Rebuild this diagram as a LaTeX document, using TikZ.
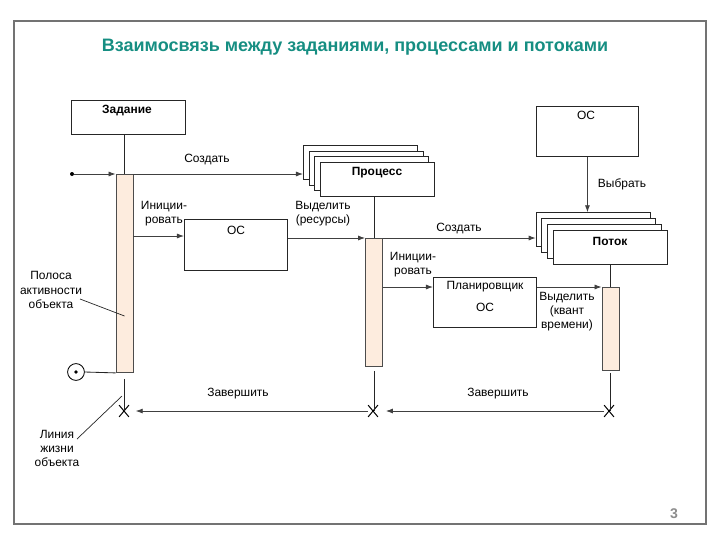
\documentclass[tikz,border=0pt]{standalone}
\usepackage{fontspec}
\setmainfont{Liberation Sans}
\usetikzlibrary{arrows.meta,shapes.misc}

\definecolor{titleteal}{RGB}{22,142,130}
\definecolor{barfill}{RGB}{253,236,222}
\definecolor{framegray}{RGB}{115,115,115}

\begin{document}
\begin{tikzpicture}[x=0.025cm,y=-0.025cm,
  box/.style={draw=black!85,line width=0.6pt,inner sep=0pt,anchor=north west},
  stackbox/.style={box,fill=white,minimum width=2.85cm,minimum height=0.85cm},
  bar/.style={draw=black!70,fill=barfill,line width=0.6pt,minimum width=0.425cm,inner sep=0pt,anchor=north},
  msg/.style={draw=black!75,line width=0.6pt,-{Latex[length=5pt,width=3.6pt]}},
  life/.style={draw=black!85,line width=0.6pt},
  lbl/.style={font=\fontsize{8.5}{10}\selectfont,align=center,inner sep=1pt},
  hdr/.style={lbl,font=\fontsize{8.5}{10}\selectfont\bfseries},
  xmark/.style={cross out,draw=black,line width=0.7pt,minimum width=0.22cm,minimum height=0.27cm,inner sep=0pt}]

\useasboundingbox (0,0) rectangle (720,540);
\draw[framegray,line width=1.4pt] (14,21) rectangle (706,524);

\node[font=\fontsize{12.8}{15}\selectfont\bfseries,text=titleteal] (title) at (355,47)
  {Взаимосвязь между заданиями, процессами и потоками};

% objects
\node[box,minimum width=2.85cm,minimum height=0.85cm] (zad) at (71,100) {};
\node[hdr] (zadtxt) at (127,111) {Задание};

\node[box,minimum width=2.55cm,minimum height=1.25cm] (os3) at (536,106) {};
\node[lbl] (os3txt) at (586,115) {ОС};

\node[stackbox] (proc3) at (303,145) {};
\node[stackbox] (proc2) at (308.7,150.5) {};
\node[stackbox] (proc1) at (314.4,156.2) {};
\node[stackbox] (proc) at (320,162) {};
\node[hdr] (proctxt) at (377,173) {Процесс};

\node[stackbox] (thr3) at (535.7,212.3) {};
\node[stackbox] (thr2) at (541.3,218.3) {};
\node[stackbox] (thr1) at (547,224.3) {};
\node[stackbox] (thr) at (552.7,230.3) {};
\node[hdr] (thrtxt) at (610,241) {Поток};

\node[box,minimum width=2.575cm,minimum height=1.275cm] (os2) at (184,219) {};
\node[lbl] (os2txt) at (236,230) {ОС};

\node[box,minimum width=2.575cm,minimum height=1.25cm] (plan) at (433,277) {};
\node[lbl] (plantxt) at (485,287) {Планировщик};
\node[lbl] (planos) at (485,307) {ОС};

% activation bars
\node[bar,minimum height=4.95cm] (bar1) at (124.5,174) {};
\node[bar,minimum height=3.2cm] (bar2) at (374,238) {};
\node[bar,minimum height=2.075cm] (bar3) at (610.5,287) {};

% start / end / destroy marks
\node[circle,fill=black,minimum size=0.1cm,inner sep=0pt] (start) at (72,174) {};
\node[circle,draw=black,line width=0.6pt,minimum size=0.42cm,inner sep=0pt] (fin) at (76,372) {};
\node[circle,fill=black,minimum size=0.09cm,inner sep=0pt] (findot) at (76,372) {};
\node[xmark] (x1) at (124,411) {};
\node[xmark] (x2) at (373,411) {};
\node[xmark] (x3) at (609,411) {};

% lifelines
\draw[life] (zad.south -| bar1.north) -- (bar1.north);
\draw[life] (proc.south -| bar2.north) -- (bar2.north);
\draw[life] (thr.south -| bar3.north) -- (bar3.north);
\draw[life,shorten <=0.15cm] (bar1.south) -- (bar1.south |- x1.center);
\draw[life,shorten <=0.1cm] (bar2.south) -- (bar2.south |- x2.center);
\draw[life,shorten <=0.05cm] (bar3.south) -- (bar3.south |- x3.center);
\draw[life] (fin.east) -- (bar1.south west);

% messages
\draw[msg] (start) -- (bar1.north west);
\draw[msg] (bar1.north east) -- (bar1.north -| proc3.west);
\draw[msg] (bar1.east |- 0,236) -- (os2.west |- 0,236);
\draw[msg] (os2.east |- bar2.north) -- (bar2.north west);
\draw[msg] (bar2.north east) -- (bar2.north -| thr3.west);
\draw[msg] (os3.south) -- (os3.south |- thr3.north);
\draw[msg] (bar2.east |- bar3.north) -- (plan.west |- bar3.north);
\draw[msg] (plan.east |- bar3.north) -- (bar3.north west);
\draw[msg,shorten >=0.2cm] (x3.west) -- (x2.east);
\draw[msg,shorten >=0.17cm] (x2.west) -- (x1.east);

% message labels
\node[lbl] (create1) at (207,160) {Создать};
\node[lbl] (init1) at (164,214) {Иниции-\\ровать};
\node[lbl] (alloc1) at (323,214) {Выделить\\(ресурсы)};
\node[lbl] (create2) at (459,229) {Создать};
\node[lbl] (choose) at (622,184) {Выбрать};
\node[lbl] (init2) at (413,265) {Иниции-\\ровать};
\node[lbl] (alloc2) at (567,312) {Выделить\\(квант\\времени)};
\node[lbl] (end1) at (238,394) {Завершить};
\node[lbl] (end2) at (498,394) {Завершить};

% notes
\node[lbl] (polosa) at (51,290) {Полоса\\активности\\объекта};
\draw[life,line width=0.5pt] (80,299) -- (bar1.center |- 0,316);
\node[lbl] (liniya) at (57,448) {Линия\\жизни\\объекта};
\draw[life,line width=0.5pt] (77,439) -- (122,396);

\node[font=\fontsize{10}{12}\selectfont\bfseries,text=black!45] (pagenum) at (674,514) {3};
\end{tikzpicture}
\end{document}
